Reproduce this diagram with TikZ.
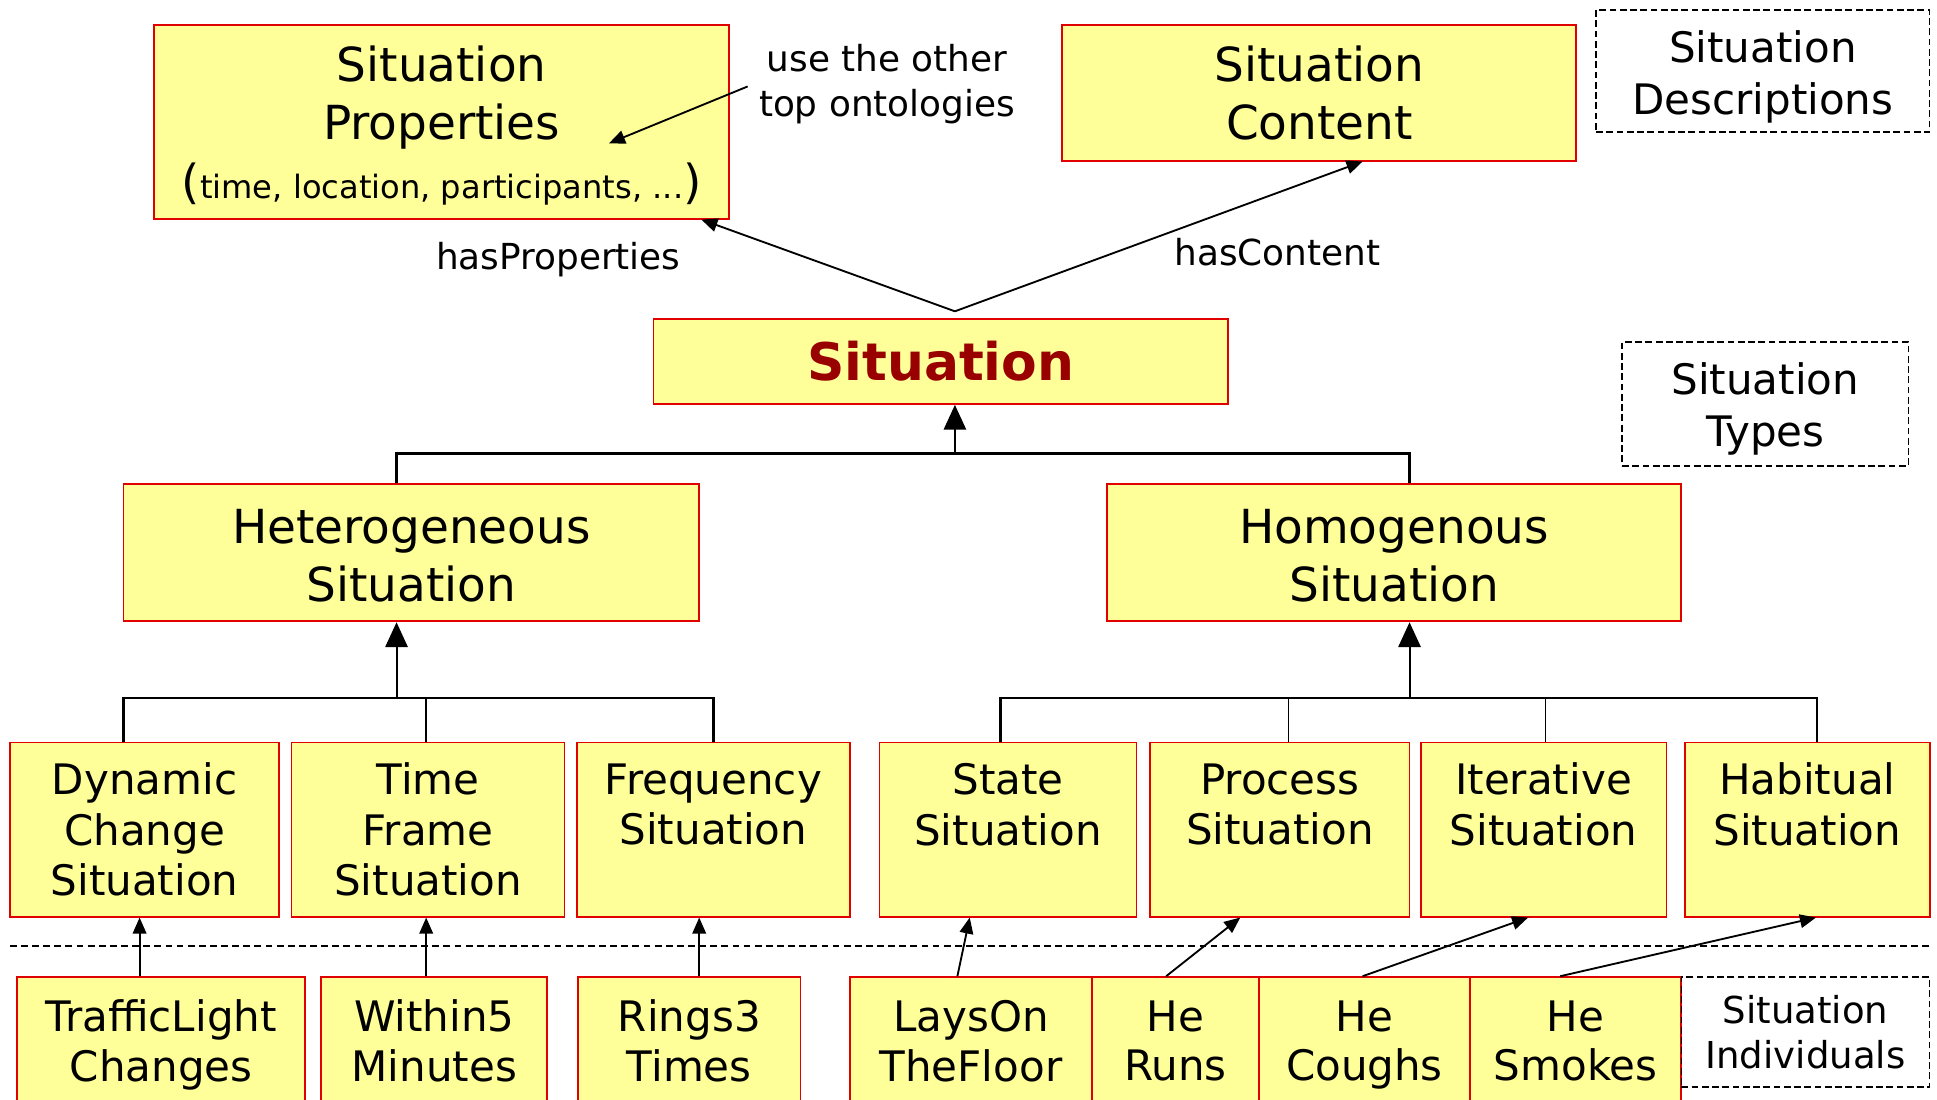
\documentclass[tikz,border=0pt]{standalone}
\usepackage{fontspec}
\setmainfont{DejaVu Sans}
\usetikzlibrary{arrows.meta}

\definecolor{boxfill}{HTML}{FFFF99}
\definecolor{boxline}{HTML}{E00000}
\definecolor{titlered}{HTML}{990000}

% text sizes
\newcommand\szL{\fontsize{38}{47}\selectfont}
\newcommand\szM{\fontsize{34}{41}\selectfont}
\newcommand\szI{\fontsize{34}{40}\selectfont}
\newcommand\szS{\fontsize{29}{36}\selectfont}
\newcommand\szP{\fontsize{26}{30}\selectfont}
\newcommand\szT{\fontsize{30}{36}\selectfont}
\newcommand\szD{\fontsize{34}{42}\selectfont}
% invisible rule that gives a first line extra height
\newcommand\lift[1]{\rule{0pt}{#1}}

\tikzset{
  box/.style={draw=boxline, fill=boxfill, line width=1.5pt, inner sep=0pt, align=center, text=black},
  tag/.style={draw=black, dash pattern=on 5.5pt off 2.8pt, line width=1.3pt, inner sep=0pt, align=center},
  sepline/.style={draw=black, dash pattern=on 5.5pt off 3.5pt, line width=1.3pt},
  tree/.style={line width=2pt},
  twig/.style={line width=1.4pt},
  up/.style={line width=1.6pt, -{Triangle[length=20pt,width=18pt]}},
  link/.style={line width=1.5pt, -{Triangle[length=13pt,width=11pt]}},
  lbl/.style={inner sep=0pt, align=center, font=\szS},
}

\begin{document}
\begin{tikzpicture}[x=1pt, y=-1pt]
\useasboundingbox (0,0) rectangle (1568,890);
\fill[white] (0,0) rectangle (1568,890);

% ---- situation descriptions ----
\node[box, font=\szL, minimum width=465pt, minimum height=157pt] (props) at (357.5,98.5)
  {\lift{35pt}Situation\\ Properties\\ ({\szP time, location, participants, ...})};
\node[box, font=\szL, minimum width=416pt, minimum height=110pt] (content) at (1068,75)
  {Situation\\ Content};
\node[tag, font=\szD, minimum width=270pt, minimum height=99pt] (desc) at (1427,57.5)
  {\lift{36pt}Situation\\ Descriptions};
\node[lbl] (note) at (718,68) {use the other\\ top ontologies};

% ---- situation types ----
\node[box, font=\fontsize{42}{50}\selectfont\bfseries, text=titlered,
      minimum width=465pt, minimum height=69pt] (sit) at (761.5,292.5) {Situation};
\node[tag, font=\szD, minimum width=232pt, minimum height=100pt] (types) at (1429,327)
  {\lift{34pt}Situation\\ Types};

\node[box, font=\szL, minimum width=466pt, minimum height=111pt] (het) at (333,447.5)
  {\lift{33pt}Heterogeneous\\ Situation};
\node[box, font=\szL, minimum width=465pt, minimum height=111pt] (hom) at (1128.5,447.5)
  {\lift{33pt}Homogenous\\ Situation};

\begin{scope}[every node/.style={box, minimum height=141pt, font=\szM}]
  \node[minimum width=218pt] (dyn)    at (117,671.5)    {Dynamic\\ Change\\ Situation};
  \node[minimum width=221pt] (tframe) at (346.5,671.5)  {Time\\ Frame\\ Situation};
  \node[minimum width=221pt] (freq)   at (577.5,671.5)  {Frequency\\ Situation\\ \mbox{}};
  \node[minimum width=208pt] (state)  at (816,671.5)    {State\\ Situation\\ \mbox{}};
  \node[minimum width=210pt] (proc)   at (1036,671.5)   {Process\\ Situation\\ \mbox{}};
  \node[minimum width=199pt] (iter)   at (1249.5,671.5) {Iterative\\ Situation\\ \mbox{}};
  \node[minimum width=198pt] (habit)  at (1463,671.5)   {Habitual\\ Situation\\ \mbox{}};
\end{scope}

% ---- situation individuals ----
\begin{scope}[every node/.style={box, minimum height=110pt, font=\szI}]
  \node[minimum width=233pt] (traffic) at (130.5,846)  {TrafficLight\\ Changes\vphantom{g}};
  \node[minimum width=183pt] (within)  at (351.5,846)  {Within5\\ Minutes\vphantom{g}};
  \node[minimum width=180pt] (rings)   at (558,846)    {Rings3\\ Times\vphantom{g}};
  \node[minimum width=196pt] (lays)    at (786,846)    {LaysOn\\ TheFloor\vphantom{g}};
  \node[minimum width=135pt] (runs)    at (951.5,846)  {He\\ Runs\vphantom{g}};
  \node[minimum width=171pt] (coughs)  at (1104.5,846) {He\\ Coughs\vphantom{g}};
  \node[minimum width=171pt] (smokes)  at (1275.5,846) {He\\ Smokes\vphantom{g}};
\end{scope}
\node[tag, font=\szT, minimum width=201pt, minimum height=89pt] (indiv) at (1461.5,835.5)
  {Situation\\ Individuals};

% ---- relations of the situation ----
\coordinate (apex) at (773,252);
\coordinate (propsin) at (493,116);
\draw[link] (apex) -- ([xshift=-23pt]props.south east);
\draw[link] (apex) -- ([xshift=35pt]content.south);
\node[lbl] (hasprop) at (452,210) {hasProperties};
\node[lbl] (hascont) at (1034,204) {hasContent};
\draw[link] ([xshift=-9pt,yshift=-2pt]note.west) -- (propsin);

% ---- type hierarchy ----
\coordinate (j1) at (773,367);
\draw[tree] ([xshift=-12pt]het.north) |- (j1) -| ([xshift=12.5pt]hom.north);
\draw[up] (j1) -- (j1 |- sit.south);

\coordinate (j2) at (321,565);
\draw[tree] ([xshift=-17pt]dyn.north) |- (j2) -| (freq.north);
\draw[twig] ([xshift=-1.5pt]tframe.north) -- ([xshift=-1.5pt]tframe.north |- j2);
\draw[up] (j2) -- (j2 |- het.south);

\coordinate (j3) at (1141,565);
\draw[tree] ([xshift=-6pt]state.north) |- (j3) -| ([xshift=8pt]habit.north);
\draw[twig] ([xshift=7pt]proc.north) -- ([xshift=7pt]proc.north |- j3);
\draw[twig] ([xshift=1.5pt]iter.north) -- ([xshift=1.5pt]iter.north |- j3);
\draw[up] (j3) -- (j3 |- hom.south);

% ---- separator between types and individuals ----
\coordinate (sepL) at (8,766);
\coordinate (sepR) at (1562,766);
\draw[sepline] (sepL) -- (sepR);

% ---- instance-of links ----
\draw[link] ([xshift=-17.5pt]traffic.north) -- ([xshift=-4pt]dyn.south);
\draw[link] ([xshift=-6.5pt]within.north) -- ([xshift=-1.5pt]tframe.south);
\draw[link] ([xshift=8pt]rings.north) -- ([xshift=-11.5pt]freq.south);
\draw[link] ([xshift=-11pt]lays.north) -- ([xshift=-31pt]state.south);
\draw[link] ([xshift=-7.5pt]runs.north) -- ([xshift=-32pt]proc.south);
\draw[link] ([xshift=-1.5pt]coughs.north) -- ([xshift=-12.5pt]iter.south);
\draw[link] ([xshift=-12.5pt]smokes.north) -- ([xshift=7pt]habit.south);
\end{tikzpicture}
\end{document}
